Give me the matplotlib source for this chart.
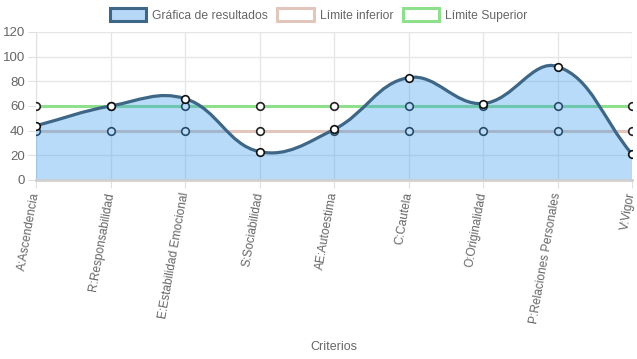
import matplotlib
matplotlib.use("Agg")
import matplotlib.pyplot as plt
from matplotlib.path import Path
from matplotlib.patches import PathPatch, Patch
import numpy as np

plt.rcParams['font.family'] = ['Liberation Sans', 'DejaVu Sans']

# Data
criterios = ["A:Ascendencia", "R:Responsabilidad", "E:Estabilidad Emocional",
             "S:Sociabilidad", "AE:Autoestima", "C:Cautela", "O:Originalidad",
             "P:Relaciones Personales", "V:Vigor"]
resultados = [44, 60, 66, 23, 41, 83, 62, 92, 21]
limite_inferior = [40, 40, 40, 40, 40, 40, 40, 40, 40]
limite_superior = [60, 60, 60, 60, 60, 60, 60, 60, 60]

blue_line = '#3e6686'
blue_fill = (0.2, 0.6, 0.93)
legend_fill = '#b6d8f6'
red_line = '#e2c6bb'
green_line = '#8fe08c'
grey = '#666666'


def spline_path(xs, ys, sx, sy, tension=0.4):
    # bezier like chart.js (tension 0.4), distances measured in pixels
    px = np.array(xs, float) * sx
    py = np.array(ys, float) * sy
    n = len(px)
    cps = []
    for i in range(n):
        p0 = (px[max(i - 1, 0)], py[max(i - 1, 0)])
        p1 = (px[i], py[i])
        p2 = (px[min(i + 1, n - 1)], py[min(i + 1, n - 1)])
        d01 = np.hypot(p1[0] - p0[0], p1[1] - p0[1])
        d12 = np.hypot(p2[0] - p1[0], p2[1] - p1[1])
        tot = d01 + d12
        s01 = d01 / tot if tot else 0
        s12 = d12 / tot if tot else 0
        fa, fb = tension * s01, tension * s12
        prev = (p1[0] - fa * (p2[0] - p0[0]), p1[1] - fa * (p2[1] - p0[1]))
        nxt = (p1[0] + fb * (p2[0] - p0[0]), p1[1] + fb * (p2[1] - p0[1]))
        cps.append((prev, nxt))
    verts = [(px[0] / sx, py[0] / sy)]
    codes = [Path.MOVETO]
    for i in range(1, n):
        c1 = cps[i - 1][1]
        c2 = cps[i][0]
        verts += [(c1[0] / sx, c1[1] / sy), (c2[0] / sx, c2[1] / sy), (px[i] / sx, py[i] / sy)]
        codes += [Path.CURVE4] * 3
    return verts, codes


fig = plt.figure(figsize=(6.37, 3.59), dpi=100)
ax = fig.add_axes([36 / 637, 1 - 180 / 359, (632 - 36) / 637, (180 - 32) / 359])

x = np.arange(len(criterios))

# limit lines
ax.plot(x, limite_superior, color=green_line, lw=2.2, zorder=2)
ax.plot(x, limite_inferior, color=red_line, lw=2.2, zorder=2)
ax.scatter(x, limite_superior, s=30, facecolor='white', edgecolor='#222222', lw=1.2, zorder=3)
ax.scatter(x, limite_inferior, s=30, facecolor='white', edgecolor='#222222', lw=1.2, zorder=3)

# results: curve with filled area
verts, codes = spline_path(x, resultados, 74.5, 1.233)
fill_verts = verts + [(x[-1], 0), (x[0], 0), verts[0]]
fill_codes = codes + [Path.LINETO, Path.LINETO, Path.CLOSEPOLY]
ax.add_patch(PathPatch(Path(fill_verts, fill_codes), facecolor=blue_fill, edgecolor='none',
                       alpha=0.35, zorder=4))
ax.add_patch(PathPatch(Path(verts, codes), facecolor='none', edgecolor=blue_line, lw=2.3,
                       zorder=5, capstyle='round'))
ax.scatter(x, resultados, s=30, facecolor='white', edgecolor='#111111', lw=1.2, zorder=6)

ax.set_xlim(0, len(criterios) - 1)
ax.set_ylim(0, 120)
ax.set_yticks(range(0, 121, 20))
ax.set_xticks(x)
ax.set_xticklabels(criterios, rotation=80, ha='right', va='center', rotation_mode='anchor',
                   fontsize=8.6, color=grey)
ax.tick_params(axis='y', labelsize=9.5, colors=grey, length=6, color='#e0e0e0', pad=2)
ax.tick_params(axis='x', length=6, color='#e0e0e0', pad=3)
for lab in ax.get_yticklabels():
    lab.set_color(grey)

ax.grid(True, color='#e6e6e6', lw=1, zorder=0)
ax.set_axisbelow(True)
for side in ['top', 'right']:
    ax.spines[side].set_visible(False)
ax.spines['left'].set_color('#e0e0e0')
ax.spines['bottom'].set_color('#d0d0d0')
ax.spines['bottom'].set_linewidth(2)
ax.spines['bottom'].set_zorder(7)

fig.text(334 / 637, 1 - 347 / 359, "Criterios", ha='center', va='center', fontsize=9,
         color=grey)

handles = [Patch(facecolor=legend_fill, edgecolor=blue_line, lw=2.2),
           Patch(facecolor='white', edgecolor=red_line, lw=2.2),
           Patch(facecolor='white', edgecolor=green_line, lw=2.2)]
fig.legend(handles, ["Gráfica de resultados", "Límite inferior", "Límite Superior"],
           loc='center', bbox_to_anchor=(0.5, 1 - 15 / 359), ncol=3, frameon=False,
           fontsize=8.7, handlelength=3.0, handleheight=1.2, columnspacing=0.8,
           handletextpad=0.5, labelcolor=grey)

fig.savefig("out.png", dpi=100)
